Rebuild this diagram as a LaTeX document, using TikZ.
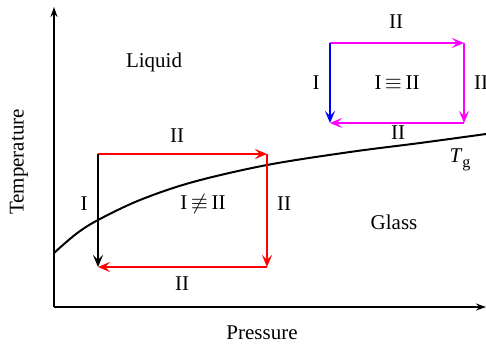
\documentclass[tikz,border=0pt]{standalone}
\usepackage{fontspec,amsmath,amssymb}
\setmainfont{Liberation Serif}
\usetikzlibrary{arrows.meta}
\definecolor{mag}{RGB}{255,0,255}
\tikzset{ax/.style={line width=.75pt,-{Stealth[length=5pt,width=3.5pt]}},
 path/.style={line width=.8pt,-{Stealth[length=6pt,width=5pt,inset=2.5pt]}},
 lbl/.style={font=\fontsize{10.5}{12}\selectfont}}
\begin{document}
\begin{tikzpicture}[x=.5pt,y=-.5pt]
\useasboundingbox(0,0)rectangle(486,347);
\coordinate(O)at(54,307);\coordinate(Ytop)at(54,7);\coordinate(Xend)at(486,307);
\draw[ax](O)--(Ytop);\draw[ax](O)--(Xend);
\node[lbl,rotate=90](temp)at(19,162){Temperature};
\node[lbl](pres)at(262,333){Pressure};
% glass transition line
\draw[line width=1pt]plot[smooth,tension=.55]coordinates{(54,253)(76,234)(98,220)(140,200)(193,182)(267,165)(350,152)(420,143)(486,134)};
\node[lbl](tg)at(460,160){\textit{T}\raisebox{-.45ex}{\footnotesize g}};
\node[lbl](liq)at(154,62){Liquid};\node[lbl](gla)at(394,222){Glass};
% red loop
\coordinate(a1)at(98,154);\coordinate(a2)at(267,154);\coordinate(a3)at(267,267);\coordinate(a4)at(98,267);
\draw[path,red](a1)--(a2);\draw[path,red](a2)--(a3);\draw[path,red](a3)--(a4);
\draw[path,black](a1)--(a4);
\node[lbl](ai)at(84,204){I};\node[lbl](at)at(177,136){II};\node[lbl](ar)at(284,204){II};
\node[lbl](ab)at(182,284){II};\node[lbl](ac)at(203,204){I\,$\not\equiv$\,II};
% magenta loop
\coordinate(b1)at(330,43);\coordinate(b2)at(464,43);\coordinate(b3)at(464,123);\coordinate(b4)at(330,123);
\draw[path,mag](b1)--(b2);\draw[path,mag](b2)--(b3);\draw[path,mag](b3)--(b4);
\draw[path,blue](b1)--(b4);
\node[lbl](bi)at(316,83){I};\node[lbl](bt)at(396,22){II};\node[lbl](br)at(481,83){II};
\node[lbl](bb)at(398,133){II};\node[lbl](bc)at(397,83){I\,$\equiv$\,II};
\end{tikzpicture}
\end{document}
